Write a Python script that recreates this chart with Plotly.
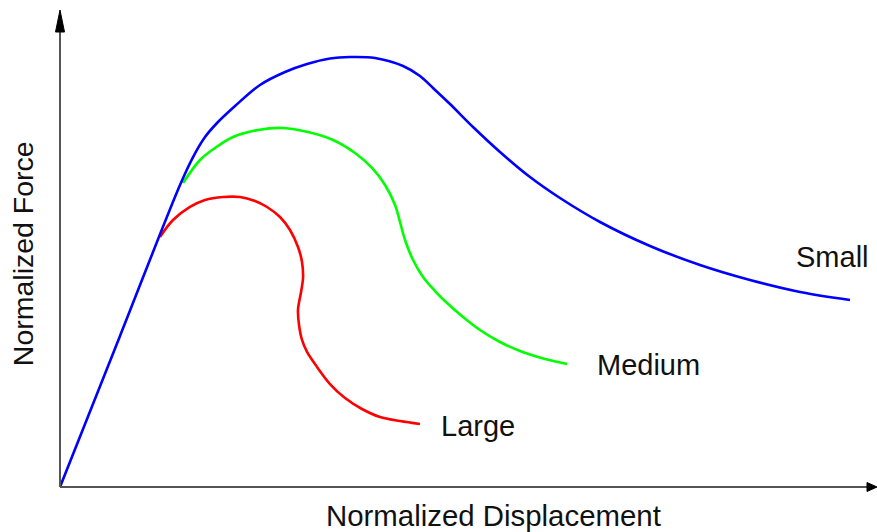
import plotly.graph_objects as go

# Normalized curves (x: displacement, y: force; peak force of "Small" = 1)
small_x = [0.0, 0.075, 0.15, 0.1663, 0.1813, 0.1963, 0.2188, 0.25, 0.2813, 0.3088, 0.3375, 0.3625,
           0.3938, 0.4288, 0.45, 0.4663, 0.4875, 0.5163, 0.55, 0.5875, 0.625, 0.675, 0.7375, 0.8,
           0.8625, 0.925, 0.9875]
small_y = [0.0, 0.3512, 0.7023, 0.7674, 0.8140, 0.8465, 0.8860, 0.9349, 0.9651, 0.9837, 0.9965, 1.0,
           0.9977, 0.9791, 0.9558, 0.9279, 0.8907, 0.8372, 0.7791, 0.7209, 0.6721, 0.6163, 0.5605,
           0.5163, 0.4814, 0.4535, 0.4349]

medium_x = [0.1538, 0.175, 0.1938, 0.2163, 0.2475, 0.2788, 0.31, 0.3413, 0.3688, 0.39, 0.4063, 0.4188,
            0.425, 0.4313, 0.4413, 0.4538, 0.4688, 0.4838, 0.5038, 0.525, 0.55, 0.575, 0.6063, 0.6338]
medium_y = [0.7070, 0.7605, 0.7884, 0.8140, 0.8302, 0.8349, 0.8256, 0.8070, 0.7767, 0.7419, 0.7023,
            0.6558, 0.6163, 0.5744, 0.5279, 0.4884, 0.4558, 0.4279, 0.3953, 0.3651, 0.3372, 0.3163,
            0.2977, 0.2860]

large_x = [0.125, 0.1413, 0.1625, 0.1813, 0.2038, 0.225, 0.2438, 0.2588, 0.275, 0.2875, 0.2975, 0.3025,
           0.3038, 0.3013, 0.2975, 0.2988, 0.3025, 0.3088, 0.3213, 0.3375, 0.3563, 0.3775, 0.4, 0.425, 0.45]
large_y = [0.5814, 0.6209, 0.6512, 0.6674, 0.6744, 0.6744, 0.6651, 0.6512, 0.6279, 0.5977, 0.5581,
           0.5233, 0.4860, 0.4535, 0.4116, 0.3767, 0.3419, 0.3140, 0.2791, 0.2395, 0.2070, 0.1814,
           0.1628, 0.1535, 0.1465]

series = [
    ("Small", small_x, small_y, "#0000FF", (-56, 43)),
    ("Medium", medium_x, medium_y, "#00FF00", (28, -1)),
    ("Large", large_x, large_y, "#FF0000", (19, -2)),
]

x_title = "Normalized Displacement"
y_title = "Normalized Force"

# layout geometry
W, H = 877, 532
ml, mr, mt, mb = 55, 0, 0, 40
pw, ph = W - ml - mr, H - mt - mb
px_per_x = 800.0
px_per_y = 430.0
x0_off = 5  # pixels between plot left edge and origin
y0_off = 5
xr = [-x0_off / px_per_x, (pw - x0_off) / px_per_x]
yr = [-y0_off / px_per_y, (ph - y0_off) / px_per_y]

font_family = "Arial, Liberation Sans, sans-serif"
axis_color = "#555555"
text_color = "#111111"

fig = go.Figure()
for name, xs, ys, col, _ in [series[2], series[1], series[0]]:
    fig.add_trace(go.Scatter(x=xs, y=ys, mode="lines", name=name,
                             line=dict(color=col, width=2.6, shape="spline", smoothing=1.0),
                             hoverinfo="skip"))

# axes with arrows
dx = lambda p: p / px_per_x
dy = lambda p: p / px_per_y
y_tip = yr[1] - dy(10)
y_base = y_tip - dy(22)
x_tip = xr[1]
x_base = x_tip - dx(10)
shapes = [
    dict(type="line", x0=0, y0=0, x1=0, y1=y_base + dy(2), line=dict(color=axis_color, width=2)),
    dict(type="line", x0=0, y0=0, x1=x_base + dx(2), y1=0, line=dict(color=axis_color, width=2)),
    dict(type="path", path=f"M {-dx(4.5)},{y_base} L 0,{y_tip} L {dx(4.5)},{y_base} Z",
         fillcolor="black", line=dict(color="black", width=1)),
    dict(type="path", path=f"M {x_base},{-dy(4.5)} L {x_tip},0 L {x_base},{dy(4.5)} Z",
         fillcolor="black", line=dict(color="black", width=1)),
]

# paper-coordinate helpers from pixel positions
paper_x = lambda px: (px - ml) / pw
paper_y = lambda py: (mt + ph - py) / ph

annotations = []
for name, xs, ys, col, (xs_, ys_) in series:
    annotations.append(dict(x=xs[-1], y=ys[-1], text=name, showarrow=False, xanchor="left",
                            yanchor="middle", xshift=xs_, yshift=ys_,
                            font=dict(family=font_family, size=29, color=text_color)))
annotations.append(dict(xref="paper", yref="paper", x=paper_x(493.5), y=paper_y(515),
                        text=x_title, showarrow=False, xanchor="center", yanchor="middle",
                        font=dict(family=font_family, size=29.4, color=text_color)))
annotations.append(dict(xref="paper", yref="paper", x=paper_x(23.2), y=paper_y(254),
                        text=y_title, showarrow=False, textangle=-90,
                        xanchor="center", yanchor="middle",
                        font=dict(family=font_family, size=28.5, color=text_color)))

fig.update_layout(
    width=W, height=H,
    margin=dict(l=ml, r=mr, t=mt, b=mb, pad=0),
    paper_bgcolor="white", plot_bgcolor="white",
    showlegend=False,
    shapes=shapes,
    annotations=annotations,
    xaxis=dict(range=xr, visible=False, fixedrange=True),
    yaxis=dict(range=yr, visible=False, fixedrange=True),
)

fig.write_html("out.html")
